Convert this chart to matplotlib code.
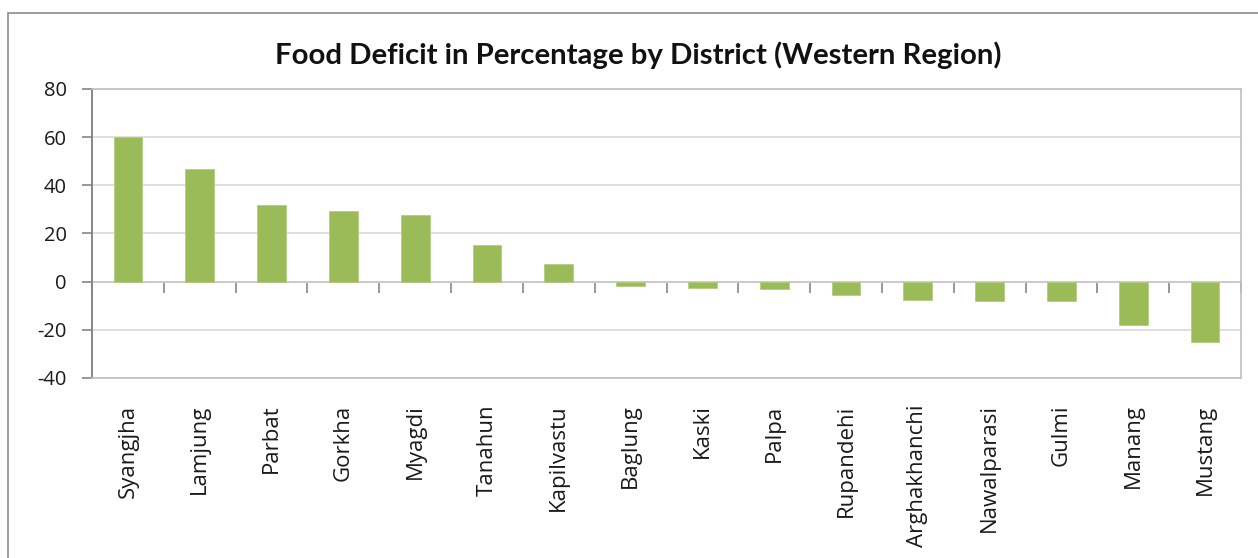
import numpy as np
import matplotlib
matplotlib.use("Agg")
import matplotlib.pyplot as plt
from matplotlib.patches import Rectangle

districts = ["Syangjha", "Lamjung", "Parbat", "Gorkha", "Myagdi", "Tanahun",
             "Kapilvastu", "Baglung", "Kaski", "Palpa", "Rupandehi",
             "Arghakhanchi", "Nawalparasi", "Gulmi", "Manang", "Mustang"]
deficit = [60.1, 46.8, 32.0, 29.2, 27.7, 15.1, 7.4, -1.8, -2.5, -3.2, -5.4,
           -7.5, -8.0, -8.0, -18.0, -25.0]
y_ticks = [-40, -20, 0, 20, 40, 60, 80]

plt.rcParams['font.family'] = ['Open Sans', 'DejaVu Sans']
plt.rcParams['axes.unicode_minus'] = False

fig = plt.figure(figsize=(12.58, 5.58), dpi=100)
fig.patches.append(Rectangle((8 / 1258, -0.1), 1.1, 1 - 13 / 558 + 0.1,
                             transform=fig.transFigure, fill=False,
                             edgecolor='#8c8c8c', linewidth=1.2))

ax = fig.add_axes([92 / 1258, 1 - 378 / 558, (1241 - 92) / 1258, (378 - 89) / 558])
x = np.arange(len(districts))
ax.bar(x, deficit, width=0.4, color='#9BBB59', edgecolor='#b3cd80',
       linewidth=0.6, zorder=3)

ax.set_xlim(-0.5, len(districts) - 0.5)
ax.set_ylim(-40, 80)
ax.set_yticks(y_ticks)
ax.yaxis.grid(True, color='#D9D9D9', linewidth=1.2, zorder=0)
ax.set_axisbelow(True)

ax.set_xticks(x)
ax.set_xticklabels(districts, rotation=90, va='top', ha='center')
ax.tick_params(axis='x', length=0, pad=19, labelsize=16, labelcolor='#1a1a1a')
ax.tick_params(axis='y', direction='out', length=7, width=1.2, color='#868686',
               pad=11, labelsize=14.5, labelcolor='#1a1a1a')

for side in ['top', 'right', 'bottom']:
    ax.spines[side].set_color('#C0C0C0')
    ax.spines[side].set_linewidth(1.2)
ax.spines['left'].set_color('#868686')
ax.spines['left'].set_linewidth(1.4)

# zero line with category separators, like the excel axis
zero = ax.secondary_xaxis(40 / 120)
zero.set_xticks(np.arange(-0.5, len(districts), 1.0))
zero.tick_params(direction='out', length=8, width=1.2, color='#868686',
                 labelbottom=False, labeltop=False)
zero.spines['bottom'].set_color('#868686')
zero.spines['bottom'].set_linewidth(1.4)

fig.text(0.507, 1 - 55 / 558, "Food Deficit in Percentage by District (Western Region)",
         ha='center', va='center', fontsize=21.2, fontweight='bold',
         family=['Lato', 'DejaVu Sans'], color='#111111')

fig.savefig("out.png", dpi=100)
